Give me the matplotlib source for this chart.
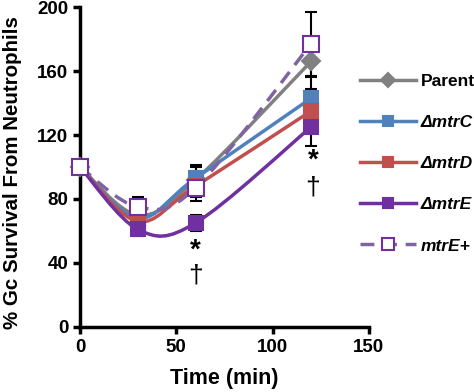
import numpy as np
import matplotlib
matplotlib.use("Agg")
import matplotlib.pyplot as plt
from matplotlib.path import Path
from matplotlib.patches import PathPatch
from matplotlib.lines import Line2D

time = [0, 30, 60, 120]
parent = [100, 70, 92, 166]
mtrC = [100, 68, 93, 143]
mtrD = [100, 66, 88, 135]
mtrE = [100, 61, 65, 125]
mtrEplus = [100, 75, 87, 177]

err_parent = [0, 5, 8, 10]
err_mtrC = [0, 5, 8, 14]
err_mtrD = [0, 4, 7, 14]
err_mtrE = [0, 4, 5, 12]
err_mtrEplus = [0, 6, 8, 20]

labels = ["Parent", "ΔmtrC", "ΔmtrD", "ΔmtrE", "mtrE+"]

plt.rcParams['font.family'] = ['Liberation Sans', 'DejaVu Sans']
plt.rcParams['font.weight'] = 'bold'

fig = plt.figure(figsize=(4.74, 3.92), dpi=100)
ax = fig.add_axes([0.169, 0.166, 0.609, 0.816])


def smooth_path(x, y):
    x = np.asarray(x, float); y = np.asarray(y, float)
    n = len(x)
    verts = [(x[0], y[0])]
    codes = [Path.MOVETO]
    for i in range(n - 1):
        p0 = np.array([x[max(i - 1, 0)], y[max(i - 1, 0)]])
        p1 = np.array([x[i], y[i]])
        p2 = np.array([x[i + 1], y[i + 1]])
        p3 = np.array([x[min(i + 2, n - 1)], y[min(i + 2, n - 1)]])
        c1 = p1 + (p2 - p0) / 6.0
        c2 = p2 - (p3 - p1) / 6.0
        verts += [tuple(c1), tuple(c2), tuple(p2)]
        codes += [Path.CURVE4] * 3
    return Path(verts, codes)


series = [
    (parent, err_parent, '#808080', '-', 'D', 9, '#808080', '#808080'),
    (mtrC, err_mtrC, '#4F81BD', '-', 's', 10, '#4F81BD', '#4F81BD'),
    (mtrD, err_mtrD, '#C0504D', '-', 's', 10, '#C0504D', '#C0504D'),
    (mtrE, err_mtrE, '#7030A0', '-', 's', 10, '#7030A0', '#7030A0'),
    (mtrEplus, err_mtrEplus, '#8064A2', (0, (4, 2.5)), 's', 12, 'white', '#7030A0'),
]

handles = []
for i, (vals, err, col, ls, mk, ms, fc, ec) in enumerate(series):
    z = 3 + i
    ax.errorbar(time, vals, yerr=err, fmt='none', ecolor='black', elinewidth=1.5,
                capsize=4, capthick=1.5, zorder=2)
    patch = PathPatch(smooth_path(time, vals), facecolor='none', edgecolor=col,
                      lw=2.5, linestyle=ls, zorder=z)
    ax.add_patch(patch)
    ax.plot(time, vals, linestyle='none', marker=mk, ms=ms, mfc=fc, mec=ec,
            mew=1.5, zorder=z + 0.5, clip_on=False)
    handles.append(Line2D([], [], color=col, lw=2.5, linestyle=ls, marker=mk,
                          ms=ms * 0.75, mfc=fc, mec=ec, mew=1.5))

# significance marks
ax.text(60, 48, '*', ha='center', va='center', fontsize=20, fontweight='bold')
ax.text(60, 32, '†', ha='center', va='center', fontsize=19, fontweight='normal')
ax.text(121, 104, '*', ha='center', va='center', fontsize=20, fontweight='bold')
ax.text(121, 87, '†', ha='center', va='center', fontsize=19, fontweight='normal')

ax.set_xlim(0, 150)
ax.set_ylim(0, 200)
ax.set_xticks([0, 50, 100, 150])
ax.set_yticks([0, 40, 80, 120, 160, 200])
ax.spines['top'].set_visible(False)
ax.spines['right'].set_visible(False)
ax.spines['left'].set_linewidth(2.5)
ax.spines['bottom'].set_linewidth(2.5)
ax.tick_params(direction='out', length=5, width=2.5, labelsize=13.5)
for lab in ax.get_xticklabels() + ax.get_yticklabels():
    lab.set_fontweight('bold')
ax.set_xlabel('Time (min)', fontsize=15.5, fontweight='bold', labelpad=9)
ax.set_ylabel('% Gc Survival From Neutrophils', fontsize=14.8, fontweight='bold')
ax.yaxis.set_label_coords(-0.2, 0.484)

leg = fig.legend(handles, labels, loc='upper left', bbox_to_anchor=(0.745, 0.83),
                 frameon=False, fontsize=12.5, handlelength=3.2, labelspacing=1.5,
                 handletextpad=0.3, borderaxespad=0)
for i, t in enumerate(leg.get_texts()):
    t.set_fontweight('bold')
    if i > 0:
        t.set_fontstyle('italic')

fig.savefig('out.png', dpi=100)
